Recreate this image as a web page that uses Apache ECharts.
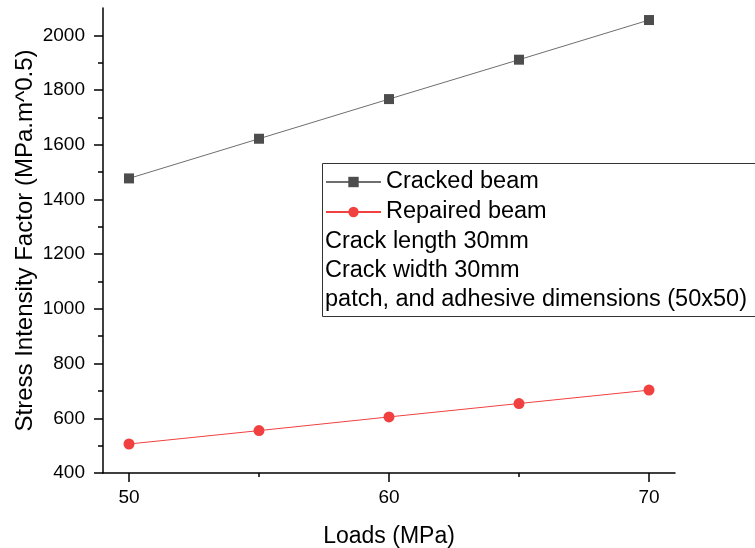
<!DOCTYPE html>
<html><head><meta charset="utf-8">
<script src="https://cdn.jsdelivr.net/npm/echarts@6/dist/echarts.min.js"></script>
<style>html,body{margin:0;padding:0;background:#fff}#c{width:755px;height:548px}</style>
</head><body><div id="c"></div>
<script>
var loads = [50, 55, 60, 65, 70];
var cracked = [1477, 1622, 1767, 1911, 2056];
var repaired = [506, 555, 605, 654, 703];
var xMajor = [50, 60, 70];
var xMinor = [55, 65];
var yMajor = [400, 600, 800, 1000, 1200, 1400, 1600, 1800, 2000];
var noteLines = ['Crack length 30mm', 'Crack width 30mm', 'patch, and adhesive dimensions (50x50)'];

var chart = echarts.init(document.getElementById('c'));
var font = 'Liberation Sans, Arial, sans-serif';
var plain = function (v) { return String(v); };
chart.setOption({
  animation: false,
  grid: {left: 103, right: 80, top: 8, bottom: 75, containLabel: false, outerBoundsMode: 'none'},
  xAxis: [{
    type: 'value', min: 49, max: 71, position: 'bottom',
    name: 'Loads (MPa)', nameLocation: 'middle', nameGap: 52, nameMoveOverlap: false,
    nameTextStyle: {fontFamily: font, fontSize: 23, color: '#000'},
    axisLine: {onZero: false, lineStyle: {color: '#000', width: 1.5}},
    axisTick: {show: true, length: 9, lineStyle: {color: '#000', width: 1.5}, customValues: xMajor},
    axisLabel: {fontFamily: font, fontSize: 19, color: '#000', margin: 15, customValues: xMajor, formatter: plain},
    splitLine: {show: false}
  }, {
    type: 'value', min: 49, max: 71, position: 'bottom',
    axisLine: {show: false, onZero: false},
    axisTick: {show: true, length: 4, lineStyle: {color: '#000', width: 1.5}, customValues: xMinor},
    axisLabel: {show: false},
    splitLine: {show: false}
  }],
  yAxis: {
    type: 'value', min: 400, max: 2100, interval: 200,
    name: 'Stress Intensity Factor (MPa.m^0.5)', nameLocation: 'middle', nameGap: 66, nameMoveOverlap: false,
    nameTextStyle: {fontFamily: font, fontSize: 24, color: '#000'},
    axisLine: {onZero: false, lineStyle: {color: '#000', width: 1.5}},
    axisTick: {show: true, length: 9, lineStyle: {color: '#000', width: 1.5}, customValues: yMajor},
    minorTick: {show: true, splitNumber: 2, length: 5, lineStyle: {color: '#000', width: 1.5}},
    axisLabel: {fontFamily: font, fontSize: 19, color: '#000', margin: 18, customValues: yMajor, formatter: plain},
    splitLine: {show: false}
  },
  legend: {
    orient: 'vertical', left: 325, top: 170, itemGap: 6, itemWidth: 55, itemHeight: 13,
    padding: 0,
    textStyle: {fontFamily: font, fontSize: 23.5, color: '#000'},
    data: ['Cracked beam', 'Repaired beam']
  },
  graphic: [
    {type: 'rect', shape: {x: 322.5, y: 163.5, width: 440, height: 153}, style: {fill: 'none', stroke: '#333', lineWidth: 1}, z: 1},
    {type: 'text', x: 325, y: 242, style: {text: noteLines[0], font: '23.5px ' + font, fill: '#000', verticalAlign: 'middle'}},
    {type: 'text', x: 325, y: 271, style: {text: noteLines[1], font: '23.5px ' + font, fill: '#000', verticalAlign: 'middle'}},
    {type: 'text', x: 325, y: 300, style: {text: noteLines[2], font: '23.5px ' + font, fill: '#000', verticalAlign: 'middle'}}
  ],
  series: [
    {name: 'Cracked beam', type: 'line', data: loads.map(function (x, i) { return [x, cracked[i]]; }),
      symbol: 'rect', symbolSize: 10, itemStyle: {color: '#4d4d4d'}, lineStyle: {color: '#6e6e6e', width: 1}},
    {name: 'Repaired beam', type: 'line', data: loads.map(function (x, i) { return [x, repaired[i]]; }),
      symbol: 'circle', symbolSize: 11, itemStyle: {color: '#f04040'}, lineStyle: {color: '#f04040', width: 1}}
  ]
});
</script></body></html>
